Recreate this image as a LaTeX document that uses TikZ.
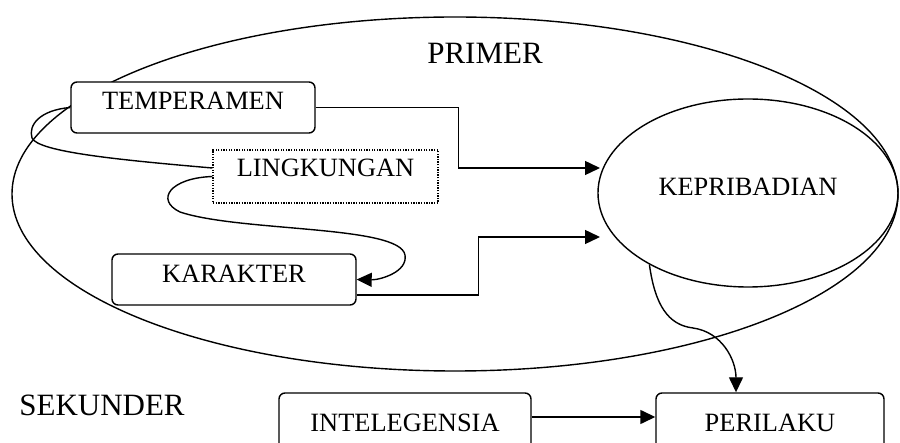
\documentclass[tikz,border=0pt]{standalone}
\usepackage{fontspec}
\setmainfont{Liberation Serif}
\usetikzlibrary{arrows.meta,shapes.geometric,calc}
\begin{document}
\begin{tikzpicture}[x=1pt,y=-1pt,
  every node/.style={font=\fontsize{26.4}{30}\selectfont},
  line/.style={line width=1.4pt},
  arr/.style={line width=1.4pt,-{Triangle[length=15pt,width=14pt]}},
  boxnode/.style={draw,line width=1.4pt,rounded corners=6pt,fill=white,inner sep=0pt,anchor=center},
  bigtext/.style={font=\fontsize{31}{34}\selectfont}]
\useasboundingbox (0,0) rectangle (900,443);
\clip (0,0) rectangle (900,443);
% large PRIMER ellipse
\draw[line] (455,194) ellipse [x radius=443pt, y radius=177pt];
\node[bigtext] (primer) at (485,53) {PRIMER};
\node[bigtext] (sekunder) at (102,405.5) {SEKUNDER};
% boxes
\node[boxnode,minimum width=244pt,text height=28pt,text depth=23pt] (temp) at (193,107.5) {TEMPERAMEN};
\node[draw,line width=1.3pt,dash pattern=on 1.3pt off 1.3pt,fill=white,inner sep=0pt,minimum width=225pt,text height=27pt,text depth=26pt] (ling) at (325.5,176.5) {LINGKUNGAN};
\node[boxnode,minimum width=244pt,text height=29pt,text depth=22pt] (kar) at (234,279.5) {KARAKTER};
\node[boxnode,minimum width=252pt,text height=39pt,text depth=28pt] (int) at (405,426.5) {INTELEGENSIA};
\node[boxnode,minimum width=228pt,text height=39pt,text depth=28pt] (per) at (770,426.5) {PERILAKU};
\node[ellipse,draw,line width=1.4pt,inner sep=0pt,minimum width=300pt,minimum height=188pt,text height=12pt,text depth=6pt] (kep) at (748,193) {KEPRIBADIAN};
% arrow targets on the left of KEPRIBADIAN
\coordinate (t1) at (600,168);
\coordinate (t2) at (600,237);
% connectors
\draw[arr] (temp.east) -- ++(143,0) |- (t1);
\draw[arr] ([yshift=-15.5pt]kar.east) -- ++(122,0) |- (t2);
\draw[line] (temp.west) .. controls (40,110) and (28,125) .. (32,138)
  .. controls (38,152) and (120,160) .. ([yshift=8.5pt]ling.west);
\draw[arr] (ling.west) .. controls (170,178) and (155,200) .. (180,212)
  .. controls (240,232) and (400,225) .. (405,255)
  .. controls (408,272) and (380,280) .. (kar.east);
\draw[arr] (kep.216) .. controls (655,305) and (668,325) .. (693,328)
  .. controls (722,332) and (736,360) .. ([xshift=-34pt]per.north);
\draw[arr] ([yshift=9.5pt]int.east) -- ([yshift=9.5pt]per.west);
\end{tikzpicture}
\end{document}
